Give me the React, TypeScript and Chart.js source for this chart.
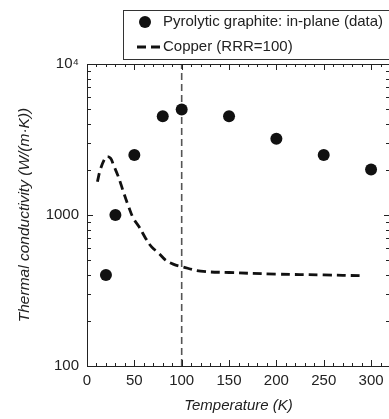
import React, { useEffect, useRef } from "react";
import { Chart, registerables } from "chart.js";

Chart.register(...registerables);

const graphiteT = [20, 30, 50, 80, 100, 150, 200, 250, 300];
const graphiteK = [400, 1000, 2500, 4500, 5000, 4500, 3200, 2500, 2000];

const copperT = [11, 14, 18, 21, 25, 28, 33, 39, 44, 49, 55, 62, 68, 76, 83, 91, 100, 120, 150, 200, 250, 290];
const copperK = [1660, 1990, 2310, 2430, 2370, 2140, 1800, 1390, 1135, 950, 836, 700, 617, 557, 503, 473, 455, 425, 416, 406, 401, 396];

const markerT = [100, 100];
const markerK = [100, 10000];

const xTickValues = [0, 50, 100, 150, 200, 250, 300];
const yTickValues = [100, 1000, 10000];
const yTickLabels = ["100", "1000", "10\u2074"];

const legendLabels = ["Pyrolytic graphite: in-plane (data)", "Copper (RRR=100)"];
const xTitle = "Temperature (K)";
const yTitle = "Thermal conductivity (W/(m\u00b7K))";

const FONT = "'Liberation Sans', Arial, Helvetica, sans-serif";
const INK = "#222";

const framePlugin = {
  id: "frame",
  afterDraw(chart: any) {
    const { ctx, chartArea } = chart;
    const { left, right, top, bottom } = chartArea;
    const xs = chart.scales.x;
    const ys = chart.scales.y;
    ctx.save();
    ctx.strokeStyle = INK;
    ctx.lineWidth = 1;
    ctx.beginPath();
    ctx.moveTo(left + 0.5, top + 0.5);
    ctx.lineTo(right + 0.5, top + 0.5);
    ctx.lineTo(right + 0.5, bottom + 0.5);
    ctx.lineTo(left + 0.5, bottom + 0.5);
    ctx.closePath();
    ctx.stroke();
    for (let v = 0; v <= 320; v += 10) {
      const px = Math.round(xs.getPixelForValue(v)) + 0.5;
      const len = v % 50 === 0 ? 6 : 3;
      ctx.beginPath();
      ctx.moveTo(px, bottom);
      ctx.lineTo(px, bottom - len);
      ctx.moveTo(px, top);
      ctx.lineTo(px, top + len);
      ctx.stroke();
    }
    for (let d = 100; d < 10000; d *= 10) {
      for (let m = 1; m <= 10; m++) {
        const v = d * m;
        const py = Math.round(ys.getPixelForValue(v)) + 0.5;
        const len = m === 1 || m === 10 ? 6 : 4;
        ctx.beginPath();
        ctx.moveTo(left, py);
        ctx.lineTo(left + len, py);
        ctx.moveTo(right, py);
        ctx.lineTo(right - len, py);
        ctx.stroke();
      }
    }
    const bx = 123.5, by = 10.5, bw = 300, bh = 49;
    ctx.fillStyle = "#fff";
    ctx.fillRect(bx, by, bw, bh);
    ctx.strokeStyle = "#333";
    ctx.strokeRect(bx, by, bw, bh);
    const ds0 = chart.data.datasets[0];
    const ds1 = chart.data.datasets[1];
    ctx.fillStyle = ds0.backgroundColor;
    ctx.beginPath();
    ctx.arc(145, 22, 6, 0, Math.PI * 2);
    ctx.fill();
    ctx.strokeStyle = ds1.borderColor;
    ctx.lineWidth = ds1.borderWidth;
    ctx.setLineDash([9, 5]);
    ctx.beginPath();
    ctx.moveTo(137, 47);
    ctx.lineTo(160, 47);
    ctx.stroke();
    ctx.setLineDash([]);
    ctx.fillStyle = INK;
    ctx.font = `15px ${FONT}`;
    ctx.textBaseline = "middle";
    ctx.textAlign = "left";
    ctx.fillText(legendLabels[0], 163, 22);
    ctx.fillText(legendLabels[1], 163, 47);
    ctx.restore();
  },
};

export default function App() {
  const ref = useRef<HTMLCanvasElement | null>(null);
  useEffect(() => {
    document.body.style.margin = "0";
    const canvas = ref.current!;
    const chart = new Chart(canvas, {
      type: "scatter",
      data: {
        datasets: [
          {
            label: legendLabels[0],
            data: graphiteT.map((t, i) => ({ x: t, y: graphiteK[i] })),
            backgroundColor: "#111",
            borderColor: "#111",
            pointRadius: 6,
            pointBorderWidth: 0,
            showLine: false,
            order: 0,
          },
          {
            label: legendLabels[1],
            data: copperT.map((t, i) => ({ x: t, y: copperK[i] })),
            borderColor: "#111",
            backgroundColor: "#111",
            borderWidth: 2.8,
            borderDash: [9, 5],
            pointRadius: 0,
            showLine: true,
            tension: 0.4,
            order: 1,
          },
          {
            label: "marker",
            data: markerT.map((t, i) => ({ x: t, y: markerK[i] })),
            borderColor: "#555",
            borderWidth: 1.6,
            borderDash: [7, 4],
            pointRadius: 0,
            showLine: true,
            order: 2,
          },
        ],
      },
      options: {
        responsive: false,
        animation: false,
        devicePixelRatio: 1,
        layout: { padding: { left: 0, right: 5, top: 64, bottom: 0 } },
        plugins: { legend: { display: false }, tooltip: { enabled: false } },
        scales: {
          x: {
            type: "linear",
            min: 0,
            max: 320,
            grid: { display: false, drawTicks: false },
            border: { display: false },
            afterBuildTicks: (s: any) => {
              s.ticks = xTickValues.map((v) => ({ value: v }));
            },
            afterFit: (s: any) => {
              s.height = 53;
            },
            ticks: {
              font: { family: FONT, size: 15 },
              color: INK,
              padding: 6,
              maxRotation: 0,
              callback: (v: any) => String(v),
            },
            title: {
              display: true,
              text: xTitle,
              font: { family: FONT, size: 15, style: "italic" },
              color: INK,
              padding: { top: 0, bottom: 4 },
            },
          },
          y: {
            type: "logarithmic",
            min: 100,
            max: 10000,
            grid: { display: false, drawTicks: false },
            border: { display: false },
            afterBuildTicks: (s: any) => {
              s.ticks = yTickValues.map((v) => ({ value: v }));
            },
            afterFit: (s: any) => {
              s.width = 87;
            },
            ticks: {
              font: { family: FONT, size: 15 },
              color: INK,
              padding: 8,
              callback: (v: any) => {
                const i = yTickValues.indexOf(Number(v));
                return i >= 0 ? yTickLabels[i] : "";
              },
            },
            title: {
              display: true,
              text: yTitle,
              font: { family: FONT, size: 15.5, style: "italic" },
              color: INK,
              padding: { top: 15, bottom: 0 },
            },
          },
        },
      },
      plugins: [framePlugin],
    } as any);
    return () => chart.destroy();
  }, []);
  return (
    <div style={{ width: 389, height: 419, overflow: "hidden", position: "relative", background: "#fff" }}>
      <canvas ref={ref} width={396} height={419} style={{ width: 396, height: 419, display: "block" }} />
    </div>
  );
}
